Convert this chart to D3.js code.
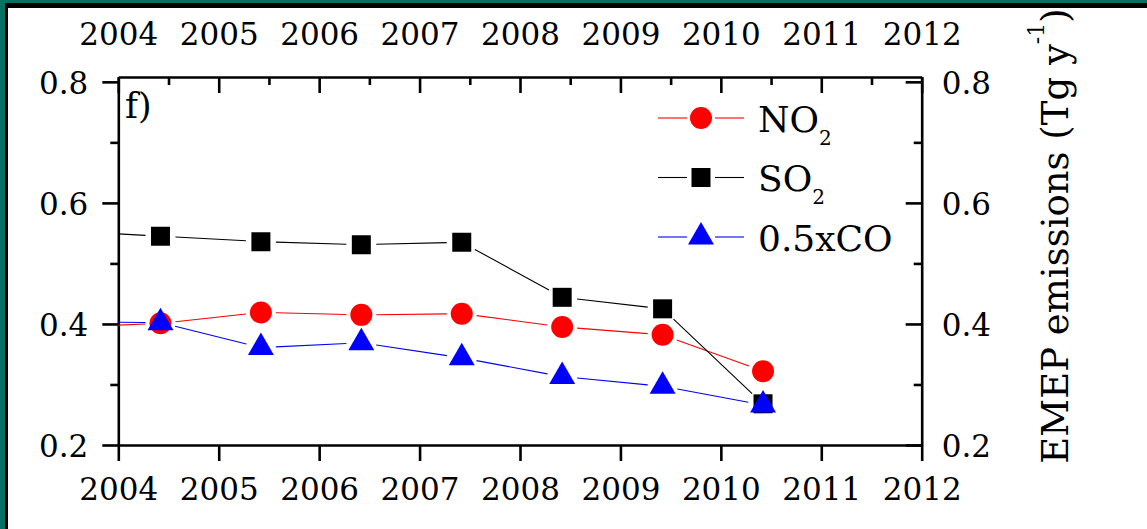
<!DOCTYPE html>
<html>
<head>
<meta charset="utf-8">
<script src="https://cdn.jsdelivr.net/npm/d3@7"></script>
<style>
  body { margin: 0; background: #fff; }
  svg { display: block; font-family: "DejaVu Serif", serif; }
</style>
</head>
<body>
<div id="app"></div>
<script>
// data (decimal years, Tg/yr)
const years = [2003.42, 2004.42, 2005.42, 2006.42, 2007.42, 2008.42, 2009.42, 2010.42];
const no2 = [0.394, 0.401, 0.419, 0.415, 0.417, 0.395, 0.382, 0.322];
const so2 = [0.554, 0.545, 0.536, 0.531, 0.535, 0.444, 0.425, 0.268];
const co  = [0.404, 0.402, 0.361, 0.369, 0.344, 0.313, 0.297, 0.266];

const xTicks = [2004, 2005, 2006, 2007, 2008, 2009, 2010, 2011, 2012];
const xMinor = [2004.5, 2005.5, 2006.5, 2007.5, 2008.5, 2009.5, 2010.5, 2011.5];
const yTicks = [0.2, 0.4, 0.6, 0.8];
const yMinor = [0.3, 0.5, 0.7];

const W = 1147, H = 529;

const svg = d3.select('#app').append('svg')
  .attr('width', W).attr('height', H);

// slide frame
svg.append('rect').attr('width', W).attr('height', H).attr('fill', '#067061');
svg.append('rect').attr('x', 5).attr('y', 3).attr('width', W).attr('height', H).attr('fill', '#000');
svg.append('rect').attr('x', 8).attr('y', 8).attr('width', W).attr('height', H).attr('fill', '#fff');

// scales
const x = d3.scaleLinear().domain([2004, 2012]).range([118.3, 921.7]);
const y = d3.scaleLinear().domain([0.2, 0.808]).range([445, 77]);

const plotL = x.range()[0], plotR = x.range()[1];
const plotT = y.range()[1], plotB = y.range()[0];

const fmt = d3.format('.1f');
const axisStyle = g => {
  g.selectAll('path, line').attr('stroke', '#000').attr('stroke-width', 2.6);
  g.selectAll('text').attr('fill', '#000').attr('font-size', 31).attr('font-family', '"DejaVu Serif", serif');
};

// bottom
svg.append('g').attr('transform', `translate(0,${plotB})`)
  .call(d3.axisBottom(x).tickValues(xTicks).tickFormat(d3.format('d')).tickSize(16).tickSizeOuter(0))
  .call(axisStyle)
  .call(g => g.selectAll('text').attr('y', 55).attr('dy', null));

// top
svg.append('g').attr('transform', `translate(0,${plotT})`)
  .call(d3.axisTop(x).tickValues(xTicks).tickFormat(d3.format('d')).tickSize(-16).tickSizeOuter(0))
  .call(axisStyle)
  .call(g => g.selectAll('text').attr('y', -32).attr('dy', null));
svg.append('g').attr('transform', `translate(0,${plotT})`)
  .call(d3.axisTop(x).tickValues(xMinor).tickFormat('').tickSize(-8).tickSizeOuter(0))
  .call(axisStyle)
  .call(g => g.select('.domain').remove());

// left
svg.append('g').attr('transform', `translate(${plotL},0)`)
  .call(d3.axisLeft(y).tickValues(yTicks).tickFormat(fmt).tickSize(16).tickSizeOuter(0))
  .call(axisStyle)
  .call(g => g.selectAll('text').attr('x', -30).attr('dy', '0.38em'));
svg.append('g').attr('transform', `translate(${plotL},0)`)
  .call(d3.axisLeft(y).tickValues(yMinor).tickFormat('').tickSize(8).tickSizeOuter(0))
  .call(axisStyle)
  .call(g => g.select('.domain').remove());

// right
svg.append('g').attr('transform', `translate(${plotR},0)`)
  .call(d3.axisRight(y).tickValues(yTicks).tickFormat(fmt).tickSize(-16).tickSizeOuter(0))
  .call(axisStyle)
  .call(g => g.selectAll('text').attr('x', 20).attr('dy', '0.38em'));
svg.append('g').attr('transform', `translate(${plotR},0)`)
  .call(d3.axisRight(y).tickValues(yMinor).tickFormat('').tickSize(-8).tickSizeOuter(0))
  .call(axisStyle)
  .call(g => g.select('.domain').remove());

// clip to plot box
svg.append('clipPath').attr('id', 'plot')
  .append('rect').attr('x', plotL).attr('y', plotT).attr('width', plotR - plotL).attr('height', plotB - plotT);

const series = [
  { name: 'NO', sub: '2', values: no2, color: '#ff0000', symbol: d3.symbolCircle, size: 380 },
  { name: 'SO', sub: '2', values: so2, color: '#000000', symbol: d3.symbolSquare, size: 361 },
  { name: '0.5xCO', sub: '', values: co, color: '#0000ff', symbol: d3.symbolTriangle, size: 292 }
];

const gap = 15; // Origin-style break in the line around each symbol
const plot = svg.append('g').attr('clip-path', 'url(#plot)');

series.forEach(s => {
  const pts = years.map((yr, i) => [x(yr), y(s.values[i])]);
  const segs = d3.pairs(pts).map(([a, b]) => {
    const dx = b[0] - a[0], dy = b[1] - a[1];
    const len = Math.hypot(dx, dy);
    const ux = dx / len, uy = dy / len;
    return [a[0] + ux * gap, a[1] + uy * gap, b[0] - ux * gap, b[1] - uy * gap];
  });
  plot.append('g').selectAll('line').data(segs).enter().append('line')
    .attr('x1', d => d[0]).attr('y1', d => d[1])
    .attr('x2', d => d[2]).attr('y2', d => d[3])
    .attr('stroke', s.color).attr('stroke-width', 1.1);
  plot.append('g').selectAll('path').data(pts).enter().append('path')
    .attr('transform', d => `translate(${d[0]},${d[1]})`)
    .attr('d', d3.symbol().type(s.symbol).size(s.size))
    .attr('fill', s.color);
});

// legend
const legend = svg.append('g').attr('transform', 'translate(658,118)');
series.forEach((s, i) => {
  const row = legend.append('g').attr('transform', `translate(0,${i * 59.5})`);
  row.append('line').attr('x1', 0).attr('x2', 29).attr('stroke', s.color).attr('stroke-width', 1.1);
  row.append('line').attr('x1', 57).attr('x2', 86).attr('stroke', s.color).attr('stroke-width', 1.1);
  row.append('path').attr('transform', 'translate(43,0)')
    .attr('d', d3.symbol().type(s.symbol).size(s.size)).attr('fill', s.color);
  const t = row.append('text').attr('x', 100).attr('y', 13.5).attr('font-size', 36).attr('fill', '#000');
  t.append('tspan').text(s.name);
  if (s.sub) t.append('tspan').attr('font-size', 20).attr('dy', 13).text(s.sub);
});

// panel label
svg.append('text').attr('x', 125).attr('y', 118).attr('font-size', 35).text('f)');

// right axis title
const title = svg.append('text')
  .attr('transform', 'translate(1068,236) rotate(-90)')
  .attr('text-anchor', 'middle').attr('font-size', 37).attr('fill', '#000');
title.append('tspan').text('EMEP emissions (Tg y');
title.append('tspan').attr('font-size', 22).attr('dy', -24).text('-1');
title.append('tspan').attr('dy', 24).text(')');
</script>
</body>
</html>
